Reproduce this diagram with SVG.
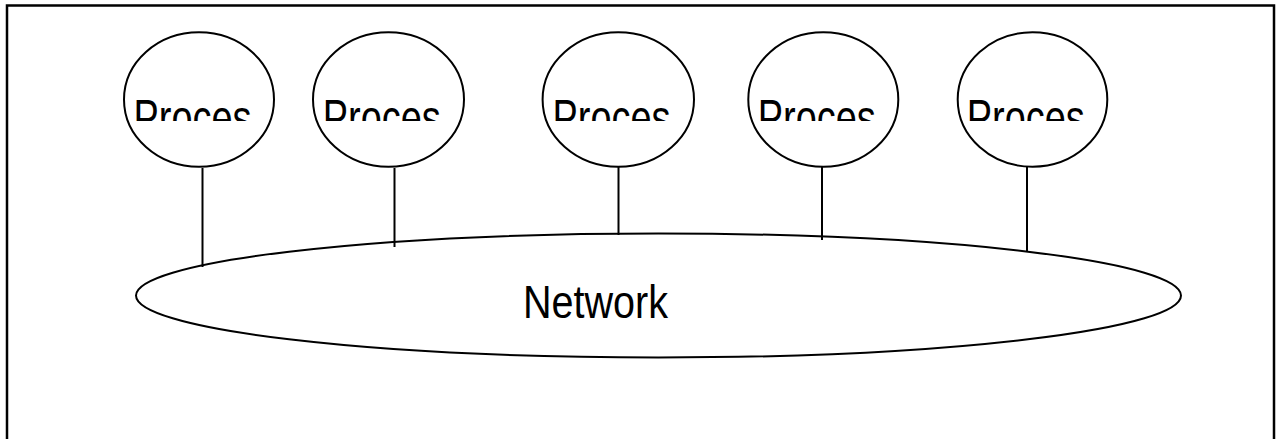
<svg xmlns="http://www.w3.org/2000/svg" width="1280" height="439" viewBox="0 0 1280 439">
<style>
.shape{fill:#fff;stroke:#000;stroke-width:2}
.conn{stroke:#000;stroke-width:2;fill:none}
.lbl{font-family:"Liberation Sans",Arial,sans-serif;font-size:50px;fill:#000}
.net{font-family:"Liberation Sans",Arial,sans-serif;font-size:46px;fill:#000}
</style>
<defs>
<clipPath id="cut" clipPathUnits="userSpaceOnUse"><rect x="0" y="0" width="1280" height="121"/></clipPath>
</defs>
<rect x="7" y="5.5" width="1267" height="500" fill="#fff" stroke="#000" stroke-width="2.5"/>
<g id="connectors">
<line class="conn" x1="202.5" y1="168" x2="202.5" y2="267"/>
<line class="conn" x1="394.5" y1="168" x2="394.5" y2="247"/>
<line class="conn" x1="618.5" y1="165" x2="618.5" y2="235"/>
<line class="conn" x1="822" y1="167" x2="822" y2="240"/>
<line class="conn" x1="1027" y1="167" x2="1027" y2="252"/>
</g>
<g id="network">
<ellipse class="shape" cx="658.5" cy="295.5" rx="522.5" ry="62" style="fill:none"/>
<text class="net" x="523" y="318" textLength="145" lengthAdjust="spacingAndGlyphs">Network</text>
</g>
<g id="p1">
<ellipse class="shape" cx="199" cy="99.5" rx="75" ry="67.2"/>
<text class="lbl" x="133.5" y="135" textLength="118" lengthAdjust="spacingAndGlyphs" clip-path="url(#cut)">Proces</text>
</g>
<g id="p2">
<ellipse class="shape" cx="388.5" cy="99.5" rx="75.5" ry="67.2"/>
<text class="lbl" x="322.8" y="135" textLength="118" lengthAdjust="spacingAndGlyphs" clip-path="url(#cut)">Proces</text>
</g>
<g id="p3">
<ellipse class="shape" cx="618.3" cy="99.5" rx="75.7" ry="67.2"/>
<text class="lbl" x="552.5" y="135" textLength="118" lengthAdjust="spacingAndGlyphs" clip-path="url(#cut)">Proces</text>
</g>
<g id="p4">
<ellipse class="shape" cx="823.3" cy="99.5" rx="75" ry="67.2"/>
<text class="lbl" x="757.8" y="135" textLength="118" lengthAdjust="spacingAndGlyphs" clip-path="url(#cut)">Proces</text>
</g>
<g id="p5">
<ellipse class="shape" cx="1032.5" cy="99.5" rx="74.8" ry="67.2"/>
<text class="lbl" x="966.8" y="135" textLength="118" lengthAdjust="spacingAndGlyphs" clip-path="url(#cut)">Proces</text>
</g>
</svg>
